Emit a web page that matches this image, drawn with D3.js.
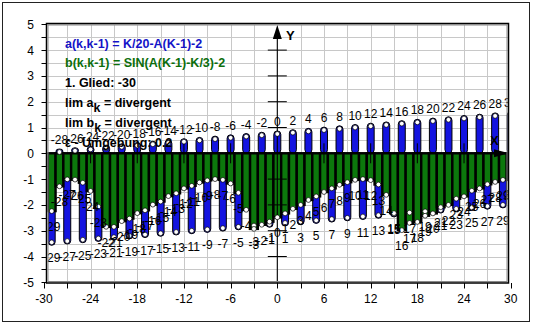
<!DOCTYPE html>
<html><head><meta charset="utf-8">
<script src="https://cdn.jsdelivr.net/npm/d3@7"></script>
<style>
html,body{margin:0;padding:0;background:#fff;}
svg{display:block;font-family:"Liberation Sans",Arial,sans-serif;}
</style>
</head><body>
<svg id="chart" width="533" height="324"></svg>
<script>
// ---- data ----
const kValues = [-29,-28,-27,-26,-25,-24,-23,-22,-21,-20,-19,-18,-17,-16,-15,-14,-13,-12,-11,-10,
  -9,-8,-7,-6,-5,-4,-3,-2,-1,0,1,2,3,4,5,6,7,8,9,10,11,12,13,14,15,16,17,18,19,20,
  21,22,23,24,25,26,27,28,29,30];
const aValues = [-3.45,0.05,-3.40,0.10,-3.35,0.15,-3.30,0.20,-3.25,0.25,-3.20,0.30,-3.15,0.35,-3.10,0.40,-3.05,0.45,-3.00,0.50,
  -2.95,0.55,-2.90,0.60,-2.85,0.65,-2.80,0.70,-2.75,0.75,-2.70,0.80,-2.65,0.85,-2.60,0.90,-2.55,0.95,-2.50,1.00,
  -2.45,1.05,-2.40,1.10,-2.35,1.15,-2.30,1.20,-2.25,1.25,-2.20,1.30,-2.15,1.35,-2.10,1.40,-2.05,1.45,-2.00,1.50];
const bValues = [-2.24,-1.28,-1.01,-1.02,-1.14,-1.46,-2.07,-2.85,-2.85,-2.63,-2.53,-2.32,-2.21,-1.99,-1.87,-1.66,-1.55,-1.36,-1.26,-1.13,
  -1.05,-1.00,-1.03,-1.17,-1.53,-2.19,-2.93,-2.77,-2.65,-2.48,-2.33,-2.15,-2.00,-1.81,-1.67,-1.50,-1.36,-1.22,-1.12,-1.03,
  -1.00,-1.04,-1.21,-1.61,-2.32,-2.98,-2.70,-2.66,-2.42,-2.33,-2.09,-2.00,-1.76,-1.67,-1.45,-1.36,-1.20,-1.11,-1.03,-1.00];
const xTickLabels = [-30,-24,-18,-12,-6,0,6,12,18,24,30];
const yTickLabels = [5,4,3,2,1,0,-1,-2,-3,-4,-5];
const infoLines = [
  {text:"a(k,k-1) = K/20-A(K-1)-2", color:"#1414c8"},
  {text:"b(k,k-1) = SIN(A(K-1)-K/3)-2", color:"#0c6e0c"},
  {text:"1. Glied: -30", color:"#000"},
  {text:"lim a", sub:"k", rest:" = divergent", color:"#000"},
  {text:"lim b", sub:"k", rest:" = divergent", color:"#000"},
  {text:"\u03b5 - Umgebung: 0.2", color:"#000"}
];
const blueColor = "#1414e0", greenColor = "#0c780c";

const svg = d3.select("#chart");
const x = d3.scaleLinear().domain([-30,30]).range([43.9,510.7]);
const y = d3.scaleLinear().domain([-5,5]).range([282.3,24.3]);
const data = kValues.map((k,i)=>({k, a:aValues[i], b:bValues[i]}));
const unit = x(1)-x(0);

// outer border
svg.append("rect").attr("x",2.5).attr("y",2.5).attr("width",527).attr("height",319)
  .attr("fill","#fff").attr("stroke","#222");

const frame = {x0:46.5, x1:508.5, y0:23.5, y1:283};
svg.append("defs").append("clipPath").attr("id","clip").append("rect")
  .attr("x",frame.x0+1).attr("y",frame.y0+0.5).attr("width",frame.x1-frame.x0-1.5).attr("height",frame.y1-frame.y0-1);

const plot = svg.append("g").attr("clip-path","url(#clip)");

// grid
plot.append("g").selectAll("line").data(d3.range(-5,5.01,0.5)).join("line")
  .attr("x1",frame.x0).attr("x2",frame.x1).attr("y1",d=>Math.round(y(d))+0.5).attr("y2",d=>Math.round(y(d))+0.5)
  .attr("stroke","#c8c8c8");
plot.append("g").selectAll("line").data(d3.range(-30,30.01,3)).join("line")
  .attr("y1",frame.y0).attr("y2",frame.y1).attr("x1",d=>Math.round(x(d))+0.5).attr("x2",d=>Math.round(x(d))+0.5)
  .attr("stroke","#c8c8c8");

// blue bars (a)
const bw = 7;
plot.append("g").selectAll("rect").data(data).join("rect")
  .attr("x",d=>x(d.k)-bw/2).attr("width",bw)
  .attr("y",d=>d.a>=0 ? y(d.a)-3 : y(0))
  .attr("height",d=>Math.abs(y(d.a)-y(0))+3)
  .attr("rx",3.5).attr("ry",3.5)
  .attr("fill",blueColor).attr("stroke","#000").attr("stroke-width",1);

// green bars (b)
plot.append("g").selectAll("rect").data(data).join("rect")
  .attr("x",d=>x(d.k)-unit/2).attr("width",unit)
  .attr("y",y(0)).attr("height",d=>y(d.b)-y(0))
  .attr("fill",greenColor).attr("stroke","#000").attr("stroke-width",2.4);

// axes through origin
const ax = plot.append("g");
ax.append("line").attr("x1",x(0)).attr("x2",x(0)).attr("y1",36).attr("y2",frame.y1).attr("stroke","#000").attr("stroke-width",1.1);
ax.append("line").attr("x1",frame.x0).attr("x2",496).attr("y1",y(0)).attr("y2",y(0)).attr("stroke","#000").attr("stroke-width",1.6);
ax.selectAll(".yt").data([-4,-3,-2,-1,1,2,3,4]).join("line")
  .attr("x1",x(0)-9.5).attr("x2",x(0)+9.5).attr("y1",d=>y(d)).attr("y2",d=>y(d)).attr("stroke","#000");
ax.selectAll(".xt").data([-24,-18,-12,-6,6,12,18,24]).join("line")
  .attr("y1",y(0)-10).attr("y2",y(0)+10).attr("x1",d=>x(d)).attr("x2",d=>x(d)).attr("stroke","#000");
ax.append("path").attr("d",`M${x(0)},25 L${x(0)-4.5},39 L${x(0)+4.5},39 Z`).attr("fill","#000");
ax.append("path").attr("d",`M509,${y(0)} L494,${y(0)-4} L494,${y(0)+4} Z`).attr("fill","#000");
ax.append("text").attr("x",286).attr("y",40).attr("font-size",13).attr("font-weight","bold").text("Y");
ax.append("text").attr("x",490).attr("y",145).attr("font-size",13).attr("font-weight","bold").text("X");

// markers
const pts = data.flatMap(d=>[{k:d.k,v:d.a},{k:d.k,v:d.b}]);
plot.append("g").selectAll("circle").data(pts).join("circle")
  .attr("cx",d=>x(d.k)).attr("cy",d=>y(d.v)).attr("r",2.4)
  .attr("fill","#fff").attr("stroke","#000").attr("stroke-width",0.7);

// point labels
plot.append("g").selectAll("text").data(pts).join("text")
  .attr("x",d=>x(d.k)).attr("y",d=>d.v>=0 ? y(d.v)-8 : y(d.v)+20)
  .attr("text-anchor","middle").attr("font-size",12).attr("fill","#000")
  .text(d=>d.k);

// info text
const info = svg.append("g").attr("font-size",12.5).attr("font-weight","bold");
infoLines.forEach((l,i)=>{
  const t = info.append("text").attr("x",65).attr("y",47.5+i*19.9).attr("fill",l.color);
  t.append("tspan").text(l.text);
  if(l.sub){
    t.append("tspan").attr("dy",5).text(l.sub);
    t.append("tspan").attr("dy",-5).text(l.rest);
  }
});

// frame
svg.append("rect").attr("x",frame.x0).attr("y",frame.y0).attr("width",frame.x1-frame.x0).attr("height",frame.y1-frame.y0)
  .attr("fill","none").attr("stroke","#000").attr("stroke-width",1.5);
svg.append("rect").attr("x",frame.x0+1.5).attr("y",frame.y0+1.5).attr("width",frame.x1-frame.x0-3).attr("height",frame.y1-frame.y0-3)
  .attr("fill","none").attr("stroke","#888").attr("stroke-width",1);

// outer ticks and labels
svg.append("g").selectAll("line").data(d3.range(-5,5.01,0.5)).join("line")
  .attr("x1",41.5).attr("x2",frame.x0).attr("y1",d=>Math.round(y(d))+0.5).attr("y2",d=>Math.round(y(d))+0.5).attr("stroke","#000");
svg.append("g").selectAll("line").data(d3.range(-30,30.01,3)).join("line")
  .attr("y1",frame.y1).attr("y2",288.5).attr("x1",d=>Math.round(x(d))+0.5).attr("x2",d=>Math.round(x(d))+0.5).attr("stroke","#000");
svg.append("g").selectAll("text").data(yTickLabels).join("text")
  .attr("x",34).attr("y",d=>y(d)+4.5).attr("text-anchor","end").attr("font-size",12).text(d=>d);
svg.append("g").selectAll("text").data(xTickLabels).join("text")
  .attr("x",d=>x(d)).attr("y",303).attr("text-anchor","middle").attr("font-size",12).text(d=>d);
</script>
</body></html>
